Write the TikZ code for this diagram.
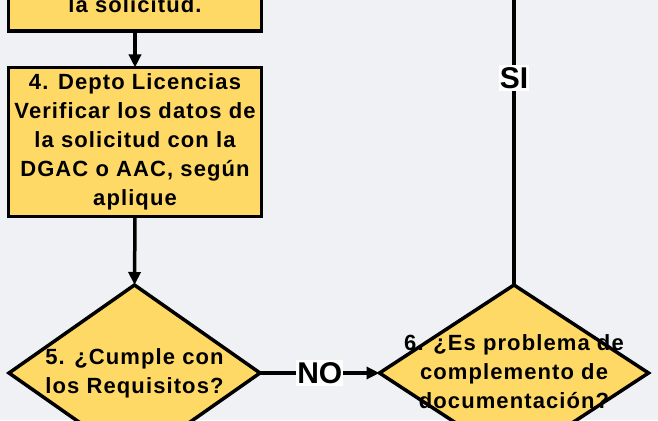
\documentclass[tikz,border=0pt]{standalone}
\usepackage{fontspec}
\setmainfont{Liberation Sans}
\newfontfamily\flujo[LetterSpace=5]{Liberation Sans}
\usetikzlibrary{shapes.geometric,arrows.meta}
\definecolor{fondo}{RGB}{240,241,245}
\definecolor{amarillo}{RGB}{255,217,102}
\newcommand{\rombotexto}[1]{\makebox[0pt]{\raisebox{-.25em}{\begin{tabular}{@{}c@{}}#1\end{tabular}}}}

\begin{document}
\begin{tikzpicture}[x=1pt, y=1pt,
	proceso/.style={draw, fill=amarillo, line width=3.5pt, rectangle, outer sep=0, inner sep=0, minimum width=253pt, align=center, font=\flujo\bfseries\fontsize{22}{29}\selectfont},
	decision/.style={draw, fill=amarillo, line width=3.5pt, diamond, outer sep=0, inner sep=0, minimum height=176pt, text height=0pt, text depth=0pt, font=\flujo\bfseries\fontsize{22}{29}\selectfont},
	flecha/.style={line width=3.5pt, -{Triangle[length=13pt,width=12pt]}},
	linea/.style={line width=3.5pt},
	etiqueta/.style={fill=white, inner xsep=1pt, inner ysep=2pt, font=\bfseries\fontsize{30}{36}\selectfont}]
		\path[use as bounding box, fill=fondo] (0,0) rectangle (658,420);
		\node [proceso, anchor=south, text height=140pt, text depth=18.5pt] (p3) at (135,389) {la solicitud.};
		\node [proceso, minimum height=149pt] (p4) at (135,278) {4. Depto Licencias\\
			Verificar los datos de\\
			la solicitud con la\\
			DGAC o AAC, según\\
			aplique};
		\node [decision, minimum width=251pt] (d5) at (134.5,47) {\rombotexto{5. ¿Cumple con\\los Requisitos?}};
		\node [decision, minimum width=269pt] (d6) at (514,47) {\rombotexto{6. ¿Es problema de\\complemento de\\documentación?}};
		\coordinate (arriba) at (514,549);
		\draw[flecha] (p3) -- (p4);
		\draw[flecha] (p4.south) -- (d5.north);
		\draw[flecha] (d5) -- node[etiqueta]{NO} (d6);
		\draw[linea] (d6) -- node[etiqueta]{SI} (arriba);
		\end{tikzpicture}
\end{document}
